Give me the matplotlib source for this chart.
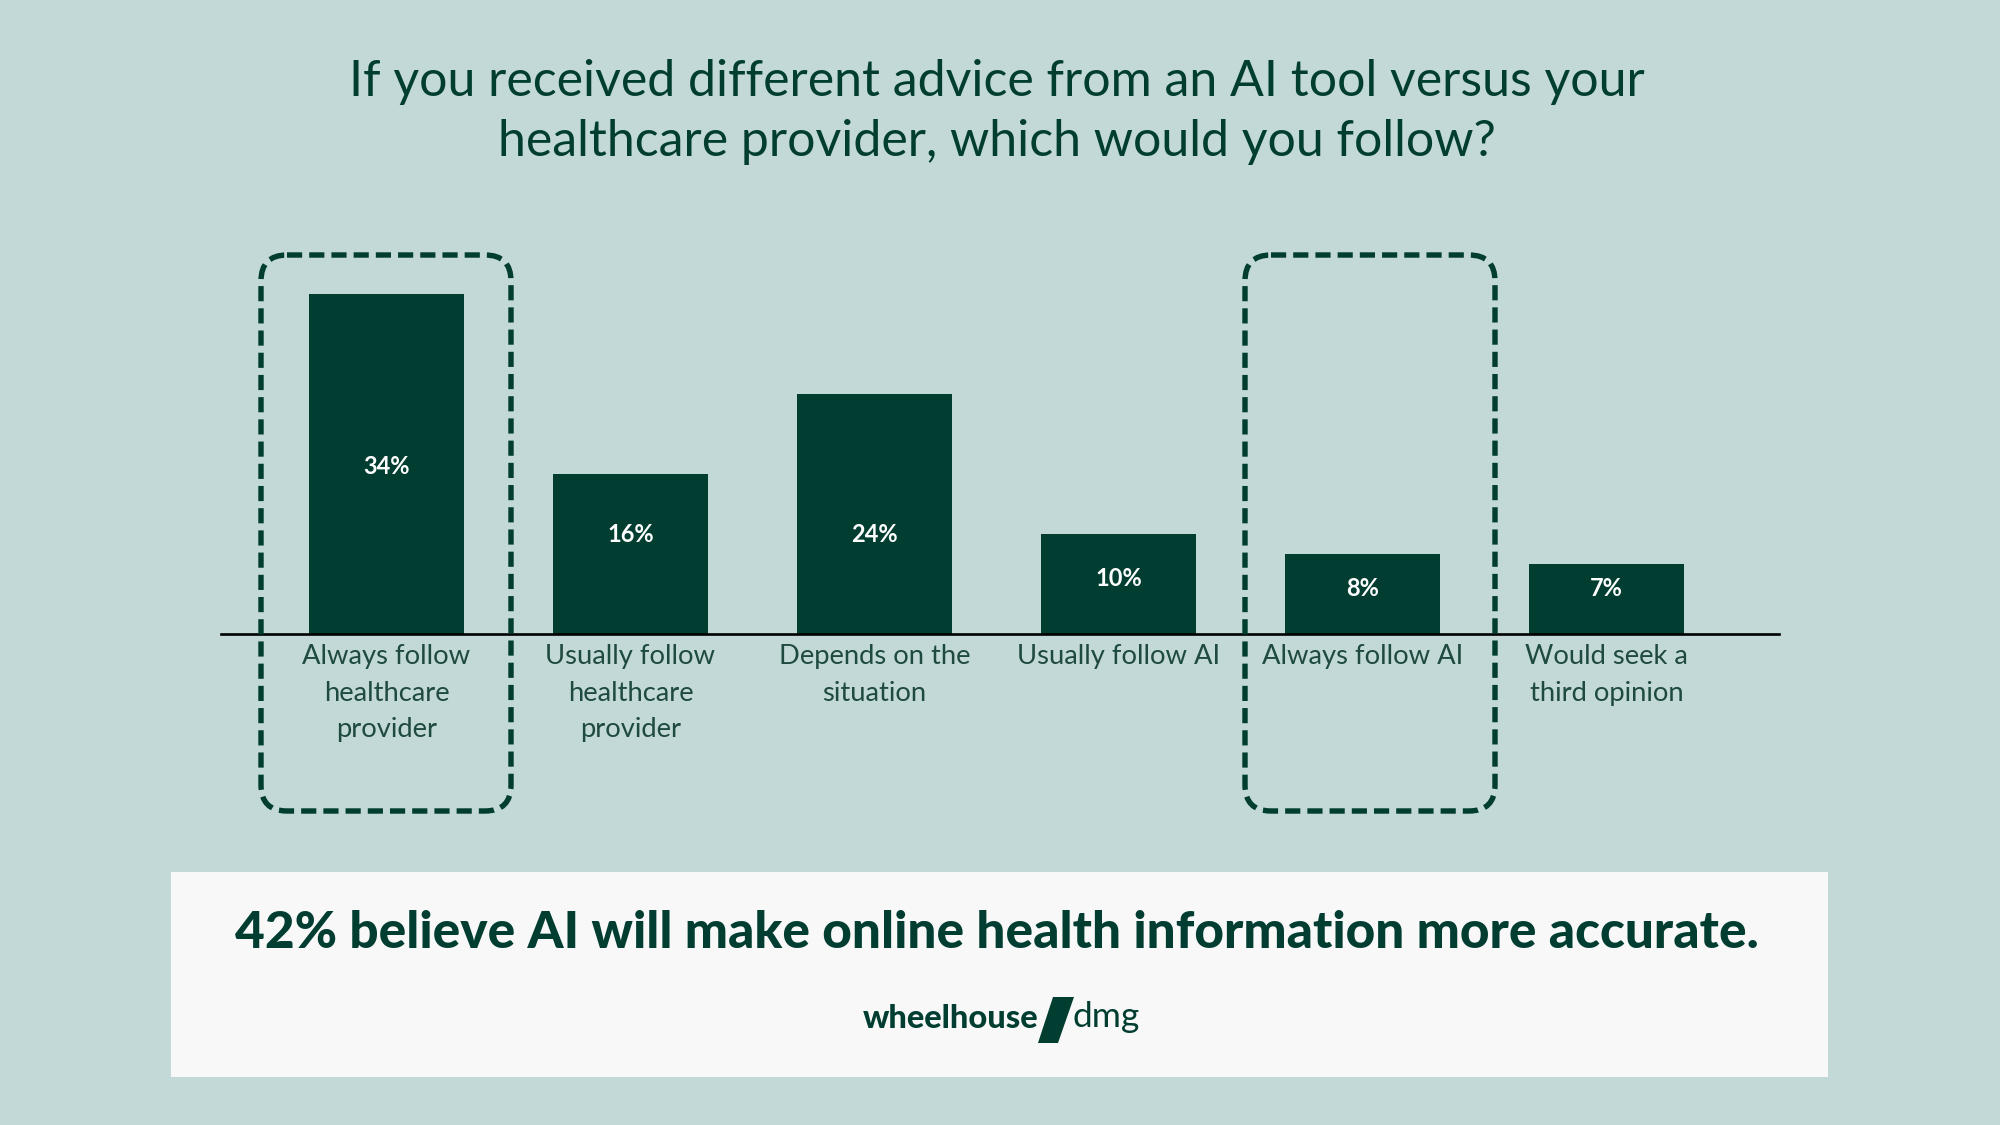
import matplotlib
matplotlib.use("Agg")
import matplotlib.pyplot as plt
from matplotlib.patches import FancyBboxPatch, Rectangle, Polygon

plt.rcParams['font.family'] = ['Lato', 'DejaVu Sans']

categories = ['Always follow\nhealthcare\nprovider',
              'Usually follow\nhealthcare\nprovider',
              'Depends on the\nsituation',
              'Usually follow AI',
              'Always follow AI',
              'Would seek a\nthird opinion']
values = [34, 16, 24, 10, 8, 7]
value_labels = ['34%', '16%', '24%', '10%', '8%', '7%']
highlighted = [0, 4]

title = 'If you received different advice from an AI tool versus your\nhealthcare provider, which would you follow?'
takeaway = '42% believe AI will make online health information more accurate.'

bg = '#c2d9d8'
green = '#013e31'
label_col = '#1f4a3f'

W, H = 2000, 1125
fig = plt.figure(figsize=(20, 11.25), dpi=100, facecolor=bg)

# pixel overlay for layout items (y measured from top)
ov = fig.add_axes([0, 0, 1, 1], zorder=0)
ov.set_xlim(0, W)
ov.set_ylim(H, 0)
ov.axis('off')
ov.patch.set_alpha(0)

ov.text(997, 112, title, ha='center', va='center', fontsize=36,
        color=green, linespacing=1.38)

# bar chart
ax = fig.add_axes([221 / W, (H - 634) / H, 1558 / W, 400 / H], zorder=2)
ax.patch.set_alpha(0)
x = list(range(len(values)))
ax.bar(x, values, width=0.635, color=green, zorder=2)
ax.set_xlim(-0.678, 5.707)
ax.set_ylim(0, 40)
for sp in ['top', 'right', 'left']:
    ax.spines[sp].set_visible(False)
ax.spines['bottom'].set_color('black')
ax.spines['bottom'].set_linewidth(1.9)
ax.set_yticks([])
ax.set_xticks(x)
ax.set_xticklabels(categories, fontsize=19.7, color=label_col,
                   linespacing=1.56, multialignment='center')
ax.tick_params(axis='x', length=0, pad=7.5)

# value labels sit inside the bars (height in % units)
label_y = [16.8, 10.0, 10.0, 5.5, 4.5, 4.5]
for i, lab in enumerate(value_labels):
    ax.text(i, label_y[i], lab, ha='center', va='center', color='white',
            fontsize=17, fontweight='bold', zorder=3)

# dashed highlight boxes (pixel extents)
box_x = [(261, 511), (1245, 1495)]
for x0, x1 in box_x:
    box = FancyBboxPatch((x0, 255), x1 - x0, 811 - 255,
                         boxstyle='round,pad=0,rounding_size=26',
                         fill=False, edgecolor=green, linewidth=3.9,
                         linestyle=(0, (2.8, 1.3)), zorder=3,
                         transform=ov.transData)
    fig.add_artist(box)

# takeaway panel
ov.add_patch(Rectangle((171, 872), 1828 - 171, 1077 - 872,
                       facecolor='#f8f8f8', edgecolor='none'))
ov.text(997, 933, takeaway, ha='center', va='center', fontsize=37,
        fontweight='black', color=green)

# logo
ov.text(1038, 1019, 'wheelhouse', ha='right', va='center', fontsize=23.5,
        fontweight='black', color=green)
ov.add_patch(Polygon([(1053, 997), (1074, 997), (1058, 1043), (1038, 1043)],
                     closed=True, facecolor=green, edgecolor='none'))
ov.text(1073, 1017, 'dmg', ha='left', va='center', fontsize=25.5,
        fontweight='normal', color=green)

fig.savefig('out.png', dpi=100, facecolor=bg)
